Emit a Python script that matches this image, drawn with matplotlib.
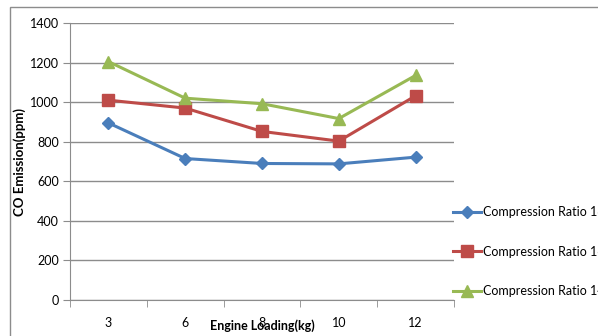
import matplotlib.pyplot as plt
from matplotlib.patches import Rectangle
import numpy as np

plt.rcParams['font.family'] = ['Lato', 'DejaVu Sans']

loads = ['3', '6', '8', '10', '12']
cr18 = [895, 715, 690, 688, 722]
cr16 = [1010, 970, 852, 803, 1032]
cr14 = [1205, 1020, 992, 917, 1135]
series_names = ['Compression Ratio 18', 'Compression Ratio 16', 'Compression Ratio 14']

fig = plt.figure(figsize=(5.98, 3.36), dpi=100)
ax = fig.add_axes([70/598, 1-300/336, 384/598, 277/336])

x = np.arange(len(loads))
ax.plot(x, cr18, color='#4A7EBB', lw=2.2, marker='D', ms=6.5, label=series_names[0])
ax.plot(x, cr16, color='#BE4B48', lw=2.2, marker='s', ms=8, label=series_names[1])
ax.plot(x, cr14, color='#98B954', lw=2.2, marker='^', ms=9, label=series_names[2])

ax.set_xlim(-0.5, len(loads)-0.5)
ax.set_ylim(0, 1400)
ax.set_yticks(range(0, 1401, 200))
ax.yaxis.grid(True, color='#8c8c8c', lw=1)
ax.set_axisbelow(True)

ax.set_xticks(x)
ax.set_xticklabels(loads)
ax.set_xticks(np.arange(-0.5, len(loads), 1), minor=True)
ax.tick_params(axis='x', which='major', length=0, pad=12, labelsize=9)
ax.tick_params(axis='x', which='minor', length=5, color='#8c8c8c')
ax.tick_params(axis='y', length=5, color='#8c8c8c', labelsize=9, pad=3)

for s in ['top', 'right']:
    ax.spines[s].set_visible(False)
ax.spines['left'].set_color('#8c8c8c')
ax.spines['bottom'].set_color('#8c8c8c')

ax.set_xlabel('Engine Loading(kg)', fontsize=9, fontweight='bold', labelpad=-7)
ax.set_ylabel('CO Emission(ppm)', fontsize=9.5, fontweight='bold', labelpad=3)

fig.legend(loc='upper left', bbox_to_anchor=(453/598, 1-206/336), frameon=False,
           fontsize=9, handlelength=2.2, labelspacing=2.2, handletextpad=0.2,
           borderaxespad=0, borderpad=0)

# outer chart border
fig.patches.append(Rectangle((10/598, -0.1), 1.2, 1-7/336+0.1, transform=fig.transFigure,
                             fill=False, edgecolor='#8c8c8c', lw=1))

fig.savefig('out.png', dpi=100)
